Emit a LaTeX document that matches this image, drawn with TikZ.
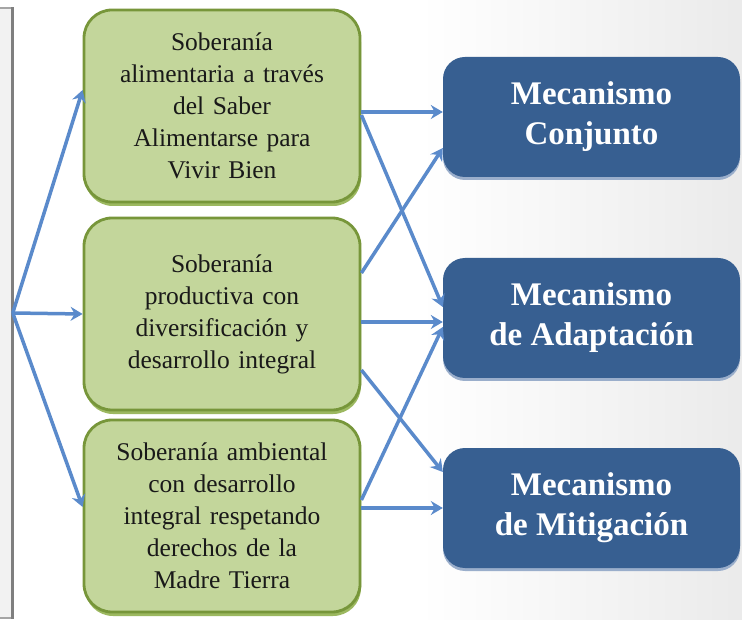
\documentclass[tikz,border=0pt]{standalone}
\usepackage{fontspec}
\setmainfont{Liberation Serif}
\usetikzlibrary{arrows.meta,shadows}
\definecolor{gfill}{HTML}{C3D69B}
\definecolor{gdraw}{HTML}{77963A}
\definecolor{gshadow}{HTML}{9CB860}
\definecolor{bfill}{HTML}{375F91}
\definecolor{bshadow}{HTML}{9AAECB}
\definecolor{arr}{HTML}{5A8ACB}
\definecolor{pfill}{HTML}{F2F2F2}
\definecolor{pdraw}{HTML}{7F7F7F}
\begin{document}
\begin{tikzpicture}[x=1pt,y=-1pt,
  gbox/.style={draw=gdraw, line width=2.8pt, fill=gfill, rounded corners=28pt,
    minimum width=276pt, minimum height=192pt, text width=262pt, align=center,
    inner sep=0pt, font=\fontsize{25.5}{32}\selectfont, text=black!90,
    drop shadow={shadow xshift=1pt, shadow yshift=-4pt, fill=gshadow, opacity=1}},
  bbox/.style={fill=bfill, draw=none, rounded corners=22pt,
    minimum width=297pt, minimum height=120pt, align=center, inner sep=0pt,
    font=\bfseries\fontsize{33}{40}\selectfont, text=white,
    drop shadow={shadow xshift=0pt, shadow yshift=-3pt, fill=bshadow, opacity=1}},
  conn/.style={draw=arr, line width=3.5pt, -{Stealth[length=12pt,width=14pt,inset=4pt]}},
  panelbox/.style={fill=pfill, draw=pdraw!70, line width=1.5pt, inner sep=0pt,
    minimum width=14pt, minimum height=610pt}
]
\fill[white] (0,0) rectangle (742,620);
\shade[left color=white, right color=black!8] (420,0) rectangle (742,620);
\useasboundingbox (0,0) rectangle (742,620);

\node[panelbox] (panel) at (5,313) {};
\draw[pdraw, line width=3pt] (panel.north east) -- (panel.south east);

\node[gbox] (g1) at (222,106) {Soberanía\\alimentaria a través\\del Saber\\Alimentarse para\\Vivir Bien};
\node[gbox] (g2) at (222,314) {Soberanía\\productiva con\\diversificación y\\desarrollo integral};
\node[gbox] (g3) at (222,516) {Soberanía ambiental\\con desarrollo\\integral respetando\\derechos de la\\Madre Tierra};

\node[bbox] (b1) at (591.5,117) {Mecanismo\\Conjunto};
\node[bbox] (b2) at (591.5,318) {Mecanismo\\de Adaptación};
\node[bbox] (b3) at (591.5,508) {Mecanismo\\de Mitigación};

\draw[conn] (panel.east) -- ([yshift=16pt]g1.west);
\draw[conn] (panel.east) -- (g2.west);
\draw[conn] (panel.east) -- ([yshift=9pt]g3.west);

\draw[conn] ([yshift=-6pt]g1.east) -- ([yshift=5pt]b1.west);
\draw[conn] ([yshift=-9pt]g1.east) -- ([yshift=11pt]b2.west);
\draw[conn] ([yshift=41pt]g2.east) -- ([yshift=-31pt]b1.west);
\draw[conn] ([yshift=-8pt]g2.east) -- ([yshift=-4pt]b2.west);
\draw[conn] ([yshift=-56pt]g2.east) -- ([yshift=36pt]b3.west);
\draw[conn] ([yshift=16pt]g3.east) -- ([yshift=-9pt]b2.west);
\draw[conn] ([yshift=8pt]g3.east) -- (b3.west);
\end{tikzpicture}
\end{document}
